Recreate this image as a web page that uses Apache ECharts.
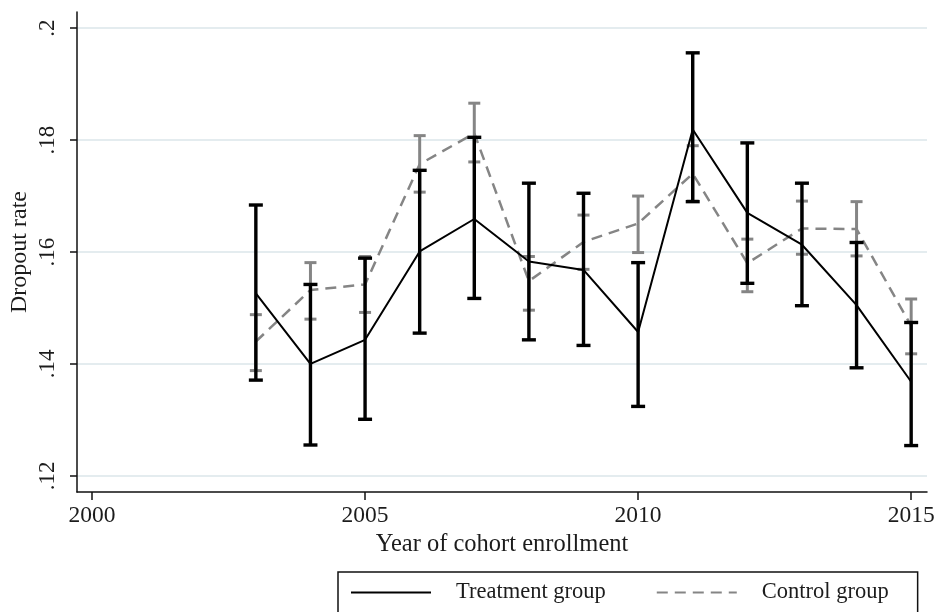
<!DOCTYPE html>
<html>
<head>
<meta charset="utf-8">
<title>Dropout rate by cohort</title>
<script src="https://cdn.jsdelivr.net/npm/echarts@6/dist/echarts.min.js"></script>
<style>
  html, body { margin: 0; padding: 0; background: #ffffff; }
  #chart { width: 936px; height: 612px; }
</style>
</head>
<body>
<div id="chart"></div>
<script>
// Cohort enrollment years
var years = [2003, 2004, 2005, 2006, 2007, 2008, 2009, 2010, 2011, 2012, 2013, 2014, 2015];

// Treatment group: mean dropout rate and 95% confidence bounds
var treatMean = [0.1526, 0.1400, 0.1443, 0.1601, 0.1659, 0.1583, 0.1568, 0.1457, 0.1819, 0.1670, 0.1613, 0.1505, 0.1368];
var treatLow  = [0.1371, 0.1255, 0.1301, 0.1455, 0.1517, 0.1443, 0.1433, 0.1324, 0.1690, 0.1544, 0.1504, 0.1393, 0.1254];
var treatHigh = [0.1684, 0.1542, 0.1589, 0.1746, 0.1805, 0.1723, 0.1705, 0.1581, 0.1956, 0.1795, 0.1723, 0.1617, 0.1474];

// Control group: mean dropout rate and 95% confidence bounds
var ctrlMean = [0.1440, 0.1532, 0.1542, 0.1757, 0.1812, 0.1548, 0.1618, 0.1651, 0.1740, 0.1580, 0.1642, 0.1641, 0.1468];
var ctrlLow  = [0.1388, 0.1480, 0.1492, 0.1707, 0.1761, 0.1496, 0.1569, 0.1599, 0.1691, 0.1529, 0.1596, 0.1593, 0.1418];
var ctrlHigh = [0.1488, 0.1581, 0.1592, 0.1808, 0.1866, 0.1592, 0.1666, 0.1700, 0.1790, 0.1623, 0.1691, 0.1690, 0.1516];

// Axis ticks and labels
var xTicks = [2000, 2005, 2010, 2015];
var yTicks = [0.12, 0.14, 0.16, 0.18, 0.2];
var yTickLabels = ['.12', '.14', '.16', '.18', '.2'];

var FONT = '"Liberation Serif", "DejaVu Serif", serif';
var TEXT = '#1c1c1c';

function zip(a, b) { return a.map(function (v, i) { return [v, b[i]]; }); }
function zip3(a, b, c) { return a.map(function (v, i) { return [v, b[i], c[i]]; }); }

// Vertical confidence bar with horizontal caps, positioned via the axis scales
function errorBars(color, width, capHalf) {
  return function (params, api) {
    var x = api.value(0);
    var top = api.coord([x, api.value(2)]);
    var bot = api.coord([x, api.value(1)]);
    var st = { stroke: color, lineWidth: width, lineCap: 'butt' };
    return {
      type: 'group',
      children: [
        { type: 'line', shape: { x1: top[0], y1: top[1], x2: bot[0], y2: bot[1] }, style: st },
        { type: 'line', shape: { x1: top[0] - capHalf, y1: top[1], x2: top[0] + capHalf, y2: top[1] }, style: st },
        { type: 'line', shape: { x1: bot[0] - capHalf, y1: bot[1], x2: bot[0] + capHalf, y2: bot[1] }, style: st }
      ]
    };
  };
}

var chart = echarts.init(document.getElementById('chart'), null, { renderer: 'canvas' });

chart.setOption({
  backgroundColor: '#ffffff',
  animation: false,
  grid: { left: 77, right: 9, top: 12, bottom: 120, containLabel: false, outerBoundsMode: 'none' },
  xAxis: {
    type: 'value',
    min: 1999.725,
    max: 2015.29,
    name: 'Year of cohort enrollment',
    nameLocation: 'middle',
    nameGap: 40,
    nameMoveOverlap: false,
    nameTextStyle: { fontFamily: FONT, fontSize: 24.5, color: TEXT },
    axisLine: { show: true, onZero: false, lineStyle: { color: '#111', width: 1.5 } },
    axisTick: { show: true, customValues: xTicks, length: 8, lineStyle: { color: '#111', width: 1.5 } },
    axisLabel: { customValues: xTicks, margin: 12, fontFamily: FONT, fontSize: 23.5, color: TEXT,
                 formatter: function (v) { return String(v); } },
    splitLine: { show: false }
  },
  yAxis: {
    type: 'value',
    min: 0.1171,
    max: 0.2029,
    name: 'Dropout rate',
    nameLocation: 'middle',
    nameRotate: 90,
    nameGap: 45,
    nameMoveOverlap: false,
    nameTextStyle: { fontFamily: FONT, fontSize: 24, color: TEXT },
    axisLine: { show: true, onZero: false, lineStyle: { color: '#111', width: 1.5 } },
    axisTick: { show: true, customValues: yTicks, length: 7, lineStyle: { color: '#111', width: 1.5 } },
    axisLabel: {
      customValues: yTicks, rotate: 90, margin: 18,
      fontFamily: FONT, fontSize: 23, color: TEXT,
      formatter: function (v) {
        var i = yTicks.findIndex(function (t) { return Math.abs(t - v) < 1e-9; });
        return i >= 0 ? yTickLabels[i] : '';
      }
    },
    splitLine: { show: true, lineStyle: { color: '#e4ecef', width: 2 } }
  },
  legend: {
    data: ['Treatment group', 'Control group'],
    left: 338,
    top: 572,
    orient: 'horizontal',
    padding: [9, 29, 24, 12],
    borderColor: '#111',
    borderWidth: 1.5,
    itemWidth: 80,
    itemHeight: 3,
    itemGap: 50,
    itemStyle: { color: 'transparent', borderWidth: 0 },
    textStyle: { fontFamily: FONT, fontSize: 22.5, color: TEXT, padding: [0, 0, 0, 20] }
  },
  series: [
    {
      name: 'Control CI',
      type: 'custom',
      data: zip3(years, ctrlLow, ctrlHigh),
      renderItem: errorBars('#858585', 3, 6),
      z: 2,
      silent: true
    },
    {
      name: 'Control group',
      type: 'line',
      data: zip(years, ctrlMean),
      symbol: 'none',
      lineStyle: { color: '#858585', width: 2.5, type: [11, 7] },
      itemStyle: { color: '#858585' },
      z: 3
    },
    {
      name: 'Treatment CI',
      type: 'custom',
      data: zip3(years, treatLow, treatHigh),
      renderItem: errorBars('#000000', 3.4, 7),
      z: 4,
      silent: true
    },
    {
      name: 'Treatment group',
      type: 'line',
      data: zip(years, treatMean),
      symbol: 'none',
      lineStyle: { color: '#000000', width: 2 },
      itemStyle: { color: '#000000' },
      z: 5
    }
  ]
});
</script>
</body>
</html>
